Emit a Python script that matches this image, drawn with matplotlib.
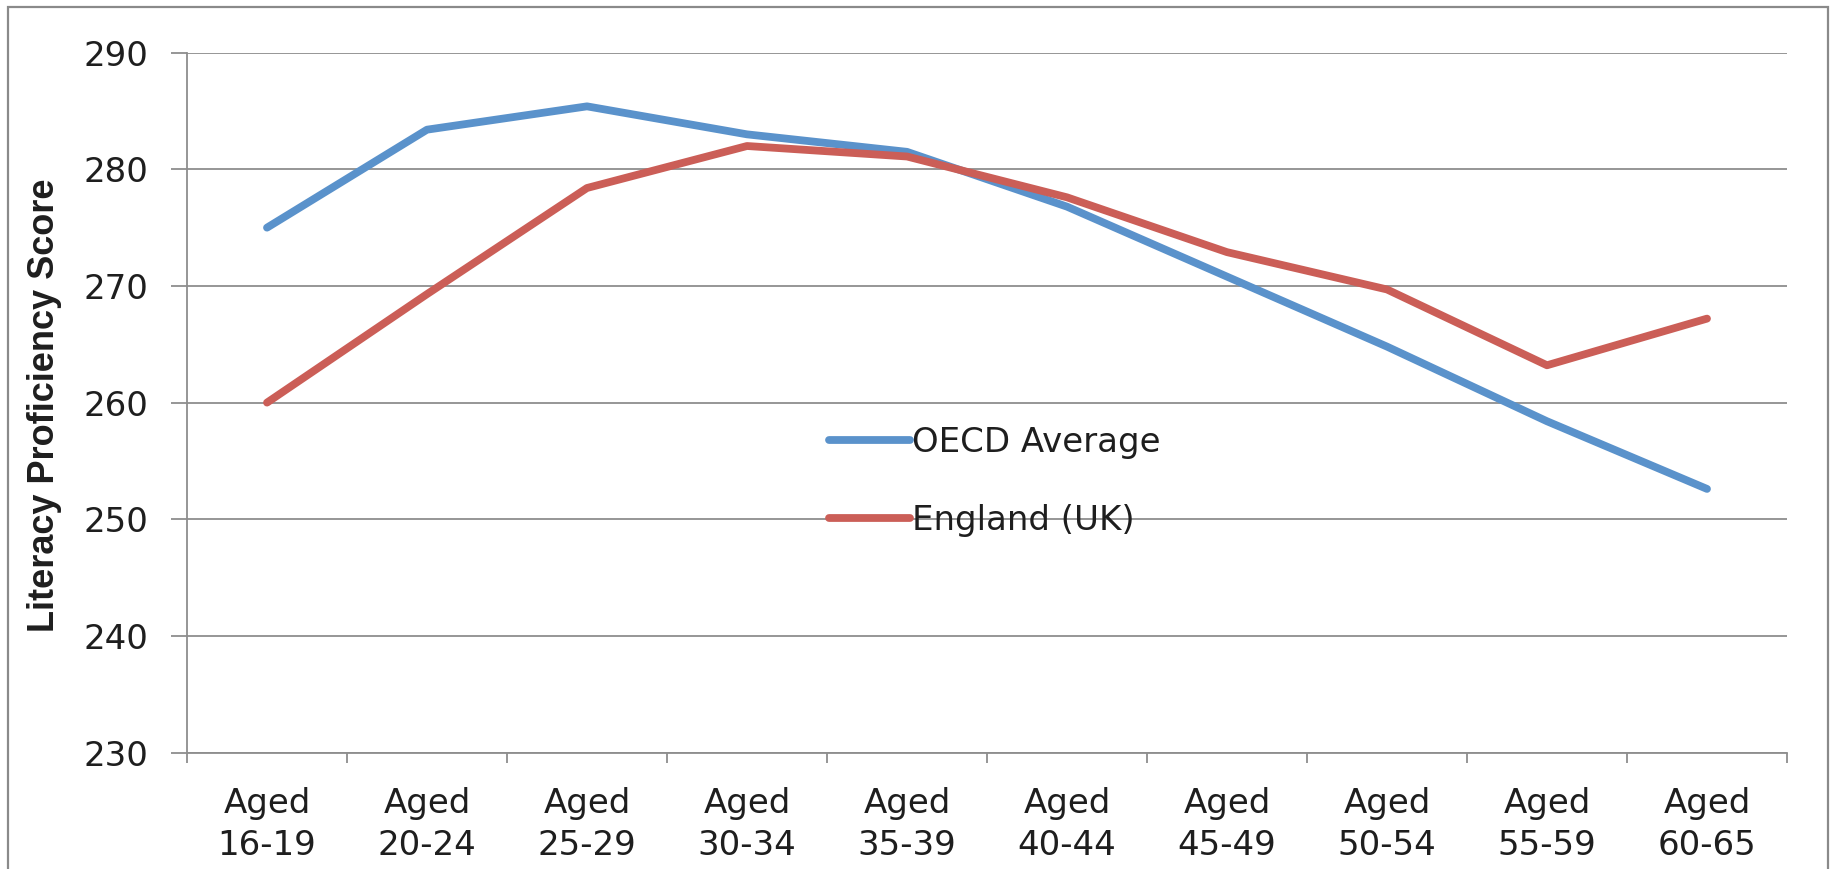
import matplotlib
matplotlib.use("Agg")
import matplotlib.pyplot as plt
from matplotlib.patches import Rectangle
import numpy as np

# Literacy proficiency by age group
age_groups = ["Aged\n16-19", "Aged\n20-24", "Aged\n25-29", "Aged\n30-34", "Aged\n35-39",
              "Aged\n40-44", "Aged\n45-49", "Aged\n50-54", "Aged\n55-59", "Aged\n60-65"]
oecd_average = [275.0, 283.4, 285.4, 283.0, 281.5, 276.8, 270.8, 264.8, 258.4, 252.6]
england_uk = [260.0, 269.3, 278.4, 282.0, 281.1, 277.6, 272.9, 269.7, 263.2, 267.2]
y_ticks = [230, 240, 250, 260, 270, 280, 290]

BLUE = "#5A92CB"
RED = "#CB5E57"
GRID = "#8E8E8E"
TEXT = "#1E1E1E"

plt.rcParams["font.family"] = ["DejaVu Sans"]

W, H, DPI = 1835, 869, 100
fig = plt.figure(figsize=(W / DPI, H / DPI), dpi=DPI)
fig.patch.set_facecolor("white")

# outer frame
fig.patches.append(Rectangle((8 / W, -0.05), (1828 - 8) / W, 1.05 - 7 / H,
                             transform=fig.transFigure, fill=False,
                             edgecolor="#8A8A8A", linewidth=1.6, zorder=0))

left, right, top, bottom = 187 / W, 1787 / W, 1 - 52.7 / H, 1 - 752.5 / H
ax = fig.add_axes([left, bottom, right - left, top - bottom])

x = np.arange(len(age_groups))
ax.plot(x, oecd_average, color=BLUE, lw=5.6, solid_capstyle="round",
        solid_joinstyle="round", label="OECD Average", zorder=3)
ax.plot(x, england_uk, color=RED, lw=5.6, solid_capstyle="round",
        solid_joinstyle="round", label="England (UK)", zorder=3)

ax.set_xlim(-0.5, len(age_groups) - 0.5)
ax.set_ylim(230, 290)
ax.set_yticks(y_ticks)
ax.set_yticklabels([str(v) for v in y_ticks])
ax.yaxis.grid(True, color=GRID, linewidth=1.3)
ax.set_axisbelow(True)

ax.set_xticks(x)
ax.set_xticklabels(age_groups, linespacing=1.32)
ax.set_xticks(np.arange(-0.5, len(age_groups)), minor=True)
ax.tick_params(axis="x", which="major", length=0, pad=25, labelsize=24.5, labelcolor=TEXT)
ax.tick_params(axis="x", which="minor", length=7, width=1.3, color=GRID, direction="out")
ax.tick_params(axis="y", which="major", length=11.5, width=1.3, color=GRID,
               pad=16, labelsize=24.5, labelcolor=TEXT)

for side in ("top", "right"):
    ax.spines[side].set_visible(False)
for side in ("left", "bottom"):
    ax.spines[side].set_color(GRID)
    ax.spines[side].set_linewidth(1.3)

leg = ax.legend(loc="center left", bbox_to_anchor=(0.401, 0.387), frameon=False,
                fontsize=24.5, handlelength=2.4, handletextpad=0.05,
                labelspacing=1.32, borderpad=0, borderaxespad=0)
for t in leg.get_texts():
    t.set_color(TEXT)
leg.set_zorder(4)

fig.text(45 / W, 1 - 405 / H, "Literacy Proficiency Score", rotation=90,
         ha="center", va="center", fontsize=26, fontweight="bold", color=TEXT,
         family=["Liberation Sans Narrow", "Liberation Sans", "DejaVu Sans"])

fig.savefig("out.png", dpi=DPI, facecolor="white")
